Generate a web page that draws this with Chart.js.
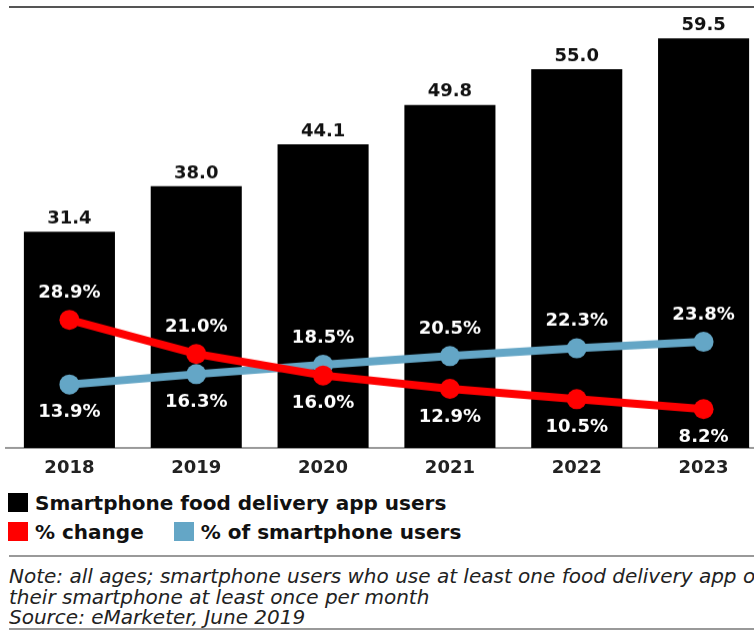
<!DOCTYPE html>
<html>
<head>
<meta charset="utf-8">
<script src="https://cdn.jsdelivr.net/npm/chart.js@4"></script>
<style>
  body { margin:0; width:754px; height:634px; overflow:hidden; background:#fff; position:relative; font-family:"DejaVu Sans", sans-serif; }
  #topRule { position:absolute; left:9px; top:6px; width:745px; height:2px; background:#555; }
  #wrap { position:absolute; left:-4px; top:0; width:781px; height:480.5px; }
  #legend { position:absolute; left:8px; top:488px; font-weight:bold; font-size:20px; color:#111; }
  .row { display:flex; align-items:center; height:29px; white-space:nowrap; }
  .item { display:flex; align-items:center; margin-right:30px; }
  .sw { width:20px; height:19px; margin-right:7px; }
  #note { position:absolute; left:9px; top:555px; width:745px; border-top:2px solid #999; border-bottom:2px solid #999;
          font-style:italic; font-size:20px; line-height:20.5px; color:#222; padding:9px 0 0 0; white-space:nowrap; overflow:hidden; }
</style>
</head>
<body>
<div id="topRule"></div>
<div id="wrap"><canvas id="myChart"></canvas></div>
<div id="legend"></div>
<div id="note">Note: all ages; smartphone users who use at least one food delivery app on<br>their smartphone at least once per month<br>Source: eMarketer, June 2019</div>
<script>
let years = ['2018', '2019', '2020', '2021', '2022', '2023'];
let appUsers = [31.4, 38.0, 44.1, 49.8, 55.0, 59.5];
let pctChange = [28.9, 21.0, 16.0, 12.9, 10.5, 8.2];
let pctOfSmartphone = [13.9, 16.3, 18.5, 20.5, 22.3, 23.8];

const RED = '#ff0000';
const BLUE = '#64a6c6';

// value labels on bars and line points
const valueLabels = {
    id: 'valueLabels',
    afterDatasetsDraw(chart) {
        let ctx = chart.ctx;
        ctx.save();
        ctx.font = 'bold 18px "DejaVu Sans"';
        ctx.textAlign = 'center';
        ctx.textBaseline = 'middle';
        ctx.fillStyle = '#111';
        chart.getDatasetMeta(0).data.forEach((bar, i) => {
            ctx.fillText(appUsers[i].toFixed(1), bar.x, bar.y - 13);
        });
        ctx.fillStyle = '#fff';
        [1, 2].forEach(d => {
            let own = chart.data.datasets[d].data;
            let other = chart.data.datasets[d === 1 ? 2 : 1].data;
            chart.getDatasetMeta(d).data.forEach((pt, i) => {
                let above = own[i] > other[i];
                ctx.fillText(own[i].toFixed(1) + '%', pt.x, pt.y + (above ? -27 : 28));
            });
        });
        ctx.restore();
    }
};

const ctx = document.getElementById('myChart').getContext('2d');
let myChart = new Chart(ctx, {
    type: 'bar',
    data: {
        labels: years,
        datasets: [
            { type: 'bar', label: 'Smartphone food delivery app users', data: appUsers, backgroundColor: '#000',
              yAxisID: 'y', barPercentage: 0.718, categoryPercentage: 1, order: 3 },
            { type: 'line', label: '% change', data: pctChange, borderColor: RED, backgroundColor: RED,
              borderWidth: 8, pointRadius: 10, pointBorderWidth: 0, yAxisID: 'y2', order: 1 },
            { type: 'line', label: '% of smartphone users', data: pctOfSmartphone, borderColor: BLUE, backgroundColor: BLUE,
              borderWidth: 8, pointRadius: 10, pointBorderWidth: 0, yAxisID: 'y2', order: 2 }
        ]
    },
    options: {
        responsive: true,
        maintainAspectRatio: false,
        animation: false,
        layout: { padding: { top: 9.5, left: 1, right: 3.6, bottom: 0 } },
        plugins: { legend: { display: false }, tooltip: { enabled: false } },
        scales: {
            x: {
                grid: { display: false },
                border: { display: true, color: '#9a9a9a', width: 2 },
                ticks: { color: '#222', padding: 2, font: { family: 'DejaVu Sans', weight: 'bold', size: 18 } }
            },
            y: { display: false, min: 0, max: 63.6 },
            y2: { display: false, min: -0.8, max: 100.8 }
        }
    },
    plugins: [valueLabels]
});

// legend built from the datasets: bar on its own row, the two lines below
let ds = myChart.data.datasets;
let rows = [[ds[0]], [ds[1], ds[2]]];
document.getElementById('legend').innerHTML = rows.map(r =>
    `<div class="row">${r.map(d => `<div class="item"><span class="sw" style="background:${d.backgroundColor}"></span>${d.label}</div>`).join('')}</div>`
).join('');
</script>
</body>
</html>
